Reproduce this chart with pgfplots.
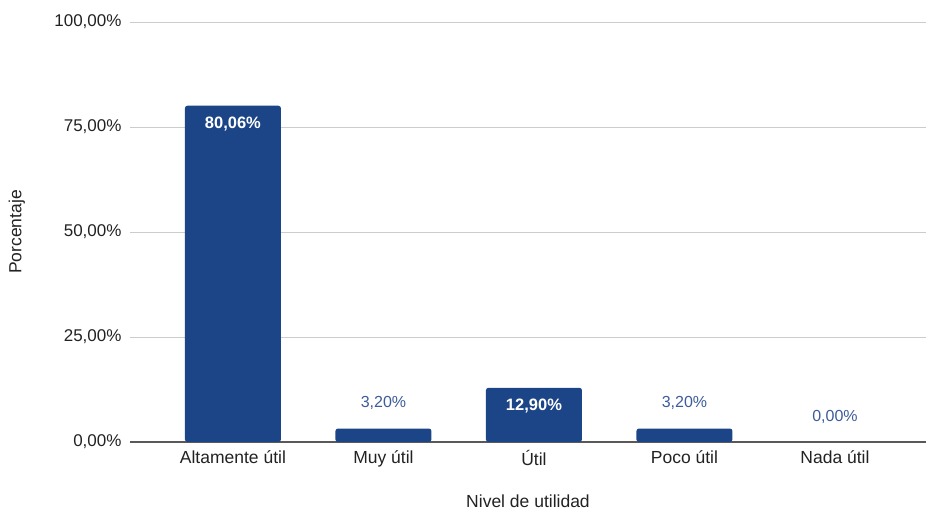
\documentclass[border=0pt]{standalone}
\usepackage{fontspec}
\setmainfont{Liberation Sans}
\usepackage{pgfplots}
\pgfplotsset{compat=1.18}
\definecolor{barblue}{HTML}{1C4587}
\definecolor{lblblue}{HTML}{3D5C9A}
\definecolor{txt}{HTML}{222222}
\definecolor{gridc}{HTML}{CCCCCC}
\begin{document}
\begin{tikzpicture}[x=1pt,y=1pt]
\useasboundingbox (0,0) rectangle (926,510);
\begin{axis}[
  at={(130pt,68pt)}, anchor=south west,
  scale only axis, width=796pt, height=420pt,
  xmin=-0.684, xmax=4.605, ymin=0, ymax=100,
  axis line style={draw=none},
  major tick length=0pt,
  ytick={0,25,50,75,100},
  ymajorgrids, grid style={color=gridc, line width=0.9pt},
  extra y ticks={0}, extra y tick labels={},
  extra y tick style={grid style={color=black!65, line width=1.2pt}},
  xtick={0,1,2,3,4},
  xticklabels={Altamente útil, Muy útil, Útil, Poco útil, Nada útil},
  /pgf/number format/assume math mode=true,
  yticklabel={\pgfmathprintnumber[fixed,fixed zerofill,precision=2,use comma]{\tick}\%},
  tick label style={text=txt},
  yticklabel style={xshift=-5pt, font=\fontsize{17}{20}\selectfont},
  xticklabel style={yshift=-5pt, font=\fontsize{17.5}{20}\selectfont},
  xlabel={Nivel de utilidad}, ylabel={Porcentaje},
  label style={font=\fontsize{17.5}{20}\selectfont, text=txt},
  xlabel style={at={(axis description cs:0.5,-0.14)}, anchor=center},
  ylabel style={at={(axis description cs:-0.142,0.5)}, anchor=center},
]
\addplot[ybar, bar width=96pt, fill=barblue, draw=none, rounded corners=2.5pt]
  coordinates {(0,80.06) (1,3.2) (2,12.9) (3,3.2)};
\addplot[draw=none, mark=none,
  nodes near coords={\pgfmathprintnumber[fixed,fixed zerofill,precision=2,use comma]{\pgfplotspointmeta}\%},
  nodes near coords style={anchor=north, yshift=-7.5pt, text=white, font=\fontsize{16.5}{19}\selectfont\bfseries}]
  coordinates {(0,80.06) (2,12.9)};
\addplot[draw=none, mark=none,
  nodes near coords={\pgfmathprintnumber[fixed,fixed zerofill,precision=2,use comma]{\pgfplotspointmeta}\%},
  nodes near coords style={anchor=south, yshift=15pt, text=lblblue, font=\fontsize{16}{19}\selectfont}]
  coordinates {(1,3.2) (3,3.2) (4,0)};
\end{axis}
\end{tikzpicture}
\end{document}
